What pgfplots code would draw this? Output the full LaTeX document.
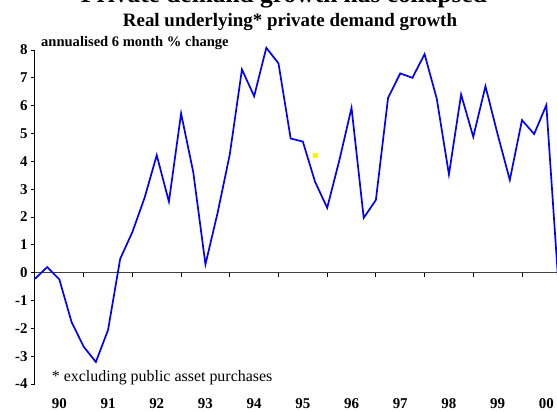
\documentclass[border=0pt]{standalone}
\usepackage{fontspec}
\setmainfont{Liberation Serif}
\usepackage{pgfplots}
\pgfplotsset{compat=1.18}

\begin{document}
\begin{tikzpicture}[
    yearlab/.style={anchor=base, yshift=-24bp, inner sep=0,
                    font=\bfseries\fontsize{15}{15}\selectfont}]
  % picture is cut like the reference: title partly above the page
  \useasboundingbox (0,0) rectangle (557bp,412bp);

  \node[anchor=base, font=\bfseries\fontsize{25.5}{25.5}\selectfont, inner sep=0]
    at (284bp,409.3bp) {Private demand growth has collapsed};
  \node[anchor=base, font=\bfseries\fontsize{19}{19}\selectfont, inner sep=0]
    at (290bp,385.3bp) {Real underlying* private demand growth};
  \node[anchor=base west, font=\bfseries\fontsize{14.6}{14.6}\selectfont, inner sep=0]
    at (41bp,365bp) {annualised 6 month \% change};
  \node[anchor=base west, font=\fontsize{16}{16}\selectfont, inner sep=0]
    at (51.7bp,30.3bp) {* excluding public asset purchases};

  \begin{axis}[
    scale only axis,
    width=523.5bp, height=334bp,
    at={(35bp,28bp)}, anchor=south west,
    xmin=1990, xmax=2000.75,
    ymin=-4, ymax=8,
    axis x line=middle, axis y line=left,
    x axis line style={-, draw=black!75, line width=1bp},
    y axis line style={-, draw=black, line width=1bp},
    xtick={1991,1992,...,2000}, xticklabels={},
    ytick={-4,-3,...,8},
    yticklabels={-4,-3,-2,-1,0,1,2,3,4,5,6,7,8},
    tick align=outside,
    major tick length=4bp,
    tick style={black, line width=0.8bp},
    yticklabel style={font=\bfseries\fontsize{15}{15}\selectfont},
    clip=false,
  ]
    \addplot[color=blue, line width=1.7bp] coordinates {
      (1990.00,-0.22) (1990.25,0.20) (1990.50,-0.24) (1990.75,-1.77)
      (1991.00,-2.66) (1991.25,-3.21) (1991.50,-2.06) (1991.75,0.50)
      (1992.00,1.46) (1992.25,2.69) (1992.50,4.22) (1992.75,2.55)
      (1993.00,5.72) (1993.25,3.61) (1993.50,0.30) (1993.75,2.15)
      (1994.00,4.25) (1994.25,7.30) (1994.50,6.34) (1994.75,8.08)
      (1995.00,7.52) (1995.25,4.82) (1995.50,4.71) (1995.75,3.27)
      (1996.00,2.33) (1996.25,4.04) (1996.50,5.92) (1996.75,1.97)
      (1997.00,2.61) (1997.25,6.28) (1997.50,7.16) (1997.75,7.00)
      (1998.00,7.85) (1998.25,6.25) (1998.50,3.53) (1998.75,6.40)
      (1999.00,4.88) (1999.25,6.70) (1999.50,4.97) (1999.75,3.33)
      (2000.00,5.48) (2000.25,4.98) (2000.50,6.02) (2000.75,-0.45)
    };
    \addplot[only marks, mark=square*, mark size=1.8bp, color=yellow]
      coordinates {(1995.75,4.22)};

    % year labels sit under the plot area, centred in each year
    \node[yearlab] at (axis cs:1990.5,-4) {90};
    \node[yearlab] at (axis cs:1991.5,-4) {91};
    \node[yearlab] at (axis cs:1992.5,-4) {92};
    \node[yearlab] at (axis cs:1993.5,-4) {93};
    \node[yearlab] at (axis cs:1994.5,-4) {94};
    \node[yearlab] at (axis cs:1995.5,-4) {95};
    \node[yearlab] at (axis cs:1996.5,-4) {96};
    \node[yearlab] at (axis cs:1997.5,-4) {97};
    \node[yearlab] at (axis cs:1998.5,-4) {98};
    \node[yearlab] at (axis cs:1999.5,-4) {99};
    \node[yearlab] at (axis cs:2000.5,-4) {00};
  \end{axis}
\end{tikzpicture}
\end{document}
